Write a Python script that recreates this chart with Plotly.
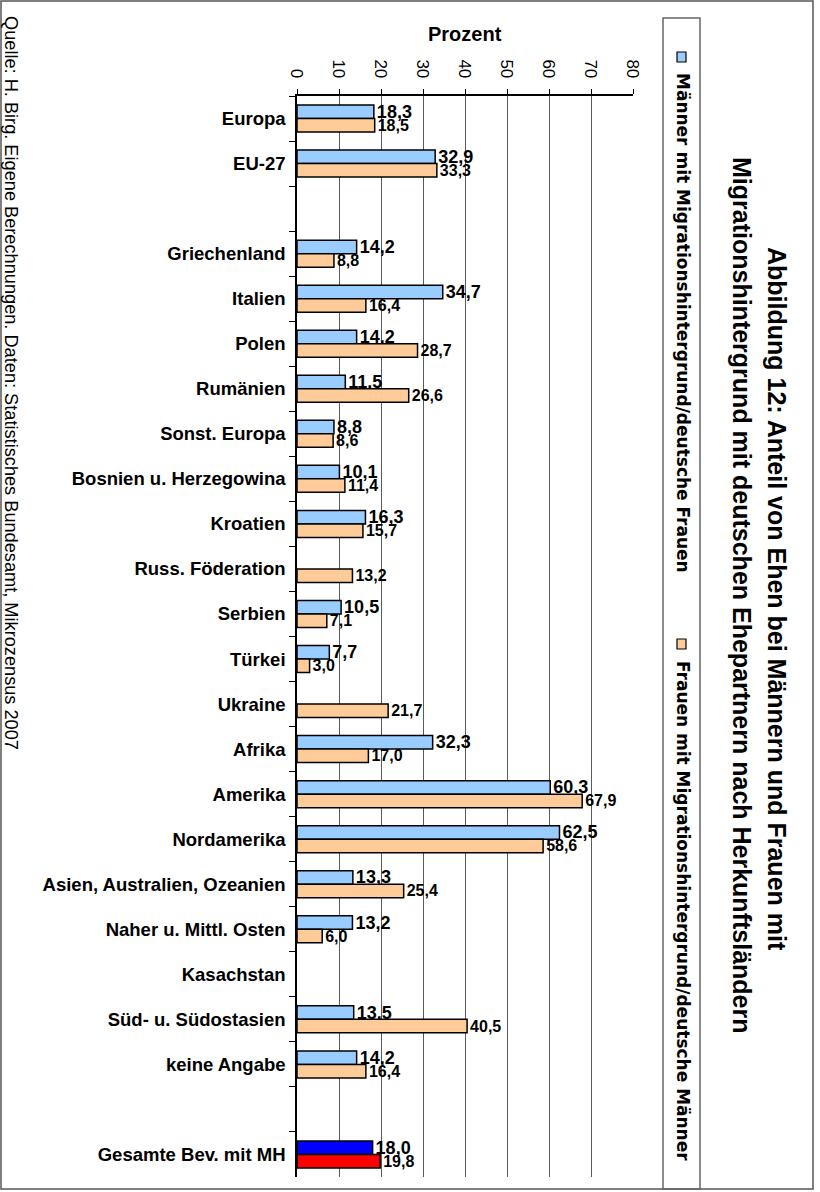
import plotly.graph_objects as go

categories = ["Europa", "EU-27", " ", "Griechenland", "Italien", "Polen", "Rumänien",
              "Sonst. Europa", "Bosnien u. Herzegowina", "Kroatien", "Russ. Föderation",
              "Serbien", "Türkei", "Ukraine", "Afrika", "Amerika", "Nordamerika",
              "Asien, Australien, Ozeanien", "Naher u. Mittl. Osten", "Kasachstan",
              "Süd- u. Südostasien", "keine Angabe", "  ", "Gesamte Bev. mit MH"]
maenner = [18.3, 32.9, None, 14.2, 34.7, 14.2, 11.5, 8.8, 10.1, 16.3, None, 10.5, 7.7,
           None, 32.3, 60.3, 62.5, 13.3, 13.2, None, 13.5, 14.2, None, 18.0]
frauen = [18.5, 33.3, None, 8.8, 16.4, 28.7, 26.6, 8.6, 11.4, 15.7, 13.2, 7.1, 3.0,
          21.7, 17.0, 67.9, 58.6, 25.4, 6.0, None, 40.5, 16.4, None, 19.8]
x_ticks = [0, 10, 20, 30, 40, 50, 60, 70, 80]

series_names = ["Männer mit Migrationshintergrund/deutsche Frauen",
                "Frauen mit Migrationshintergrund/deutsche Männer"]
title_line1 = "Abbildung 12: Anteil von Ehen bei Männern und Frauen mit"
title_line2 = "Migrationshintergrund mit deutschen Ehepartnern nach Herkunftsländern"
source_text = "Quelle: H. Birg. Eigene Berechnungen. Daten: Statistisches Bundesamt, Mikrozensus 2007"

BLUE, ORANGE = "#99CCFF", "#FFCC99"
TOTAL_BLUE, TOTAL_RED = "#0000FF", "#FF0000"
FONT = "Liberation Sans, Arial, sans-serif"
LEG_FONT = "DejaVu Sans, sans-serif"

W, H = 820, 1192
L, R, T, B = 297, 633, 96, 1177


def fx(px):
    return (px - L) / (R - L)


def fy(py):
    return (B - py) / (B - T)


def fmt(v):
    return "" if v is None else f"{v:.1f}".replace(".", ",")


def colors(vals, base, last):
    c = [base] * len(vals)
    c[-1] = last
    return c


fig = go.Figure()
fig.add_trace(go.Bar(
    y=categories, x=maenner, orientation="h", name=series_names[0],
    marker=dict(color=colors(maenner, BLUE, TOTAL_BLUE), line=dict(color="black", width=1.5)),
    text=[fmt(v) for v in maenner], textposition="outside", constraintext="none",
    textfont=dict(family=FONT, size=18, color="black", weight="bold"),
    cliponaxis=False, showlegend=False))
fig.add_trace(go.Bar(
    y=categories, x=frauen, orientation="h", name=series_names[1],
    marker=dict(color=colors(frauen, ORANGE, TOTAL_RED), line=dict(color="black", width=1.5)),
    text=[fmt(v) for v in frauen], textposition="outside", constraintext="none",
    textfont=dict(family=FONT, size=16, color="black", weight="bold"),
    cliponaxis=False, showlegend=False))

fig.update_layout(
    width=W, height=H, barmode="group", bargap=0.4, bargroupgap=0,
    paper_bgcolor="white", plot_bgcolor="white",
    margin=dict(l=L, r=W - R, t=T, b=H - B, pad=0),
    font=dict(family=FONT, color="black"),
    xaxis=dict(side="top", range=[0, 80], tickvals=x_ticks, tickangle=90,
               ticks="outside", ticklen=5, tickcolor="black", ticklabelstandoff=5,
               showline=True, linecolor="black", linewidth=1.5,
               showgrid=True, gridcolor="#5a5a5a", gridwidth=1,
               zeroline=False, tickfont=dict(size=17, family=FONT)),
    yaxis=dict(type="category", categoryorder="array", categoryarray=categories,
               range=[len(categories) - 0.5, -0.5], tickson="boundaries",
               ticks="outside", ticklen=6, tickcolor="black", ticklabelstandoff=6,
               showline=True, linecolor="black", linewidth=1.5, showgrid=False,
               tickfont=dict(size=18.5, family=FONT, weight="bold")),
)

ann = []
ann.append(dict(text="<b>Prozent</b>", x=fx(465), y=fy(34), font=dict(size=20)))
ann.append(dict(text="<b>" + title_line1 + "</b>", x=fx(777), y=fy(599), textangle=90,
                font=dict(size=25)))
ann.append(dict(text="<b>" + title_line2 + "</b>", x=fx(742), y=fy(595), textangle=90,
                font=dict(size=25)))
ann.append(dict(text="<b>" + series_names[0] + "</b>", x=fx(683), y=fy(323), textangle=90,
                font=dict(size=17, family=LEG_FONT)))
ann.append(dict(text="<b>" + series_names[1] + "</b>", x=fx(683), y=fy(911), textangle=90,
                font=dict(size=17, family=LEG_FONT)))
ann.append(dict(text=source_text, x=fx(11), y=fy(383), textangle=90, font=dict(size=18.2)))
for a in ann:
    a.update(xref="paper", yref="paper", showarrow=False, xanchor="center", yanchor="middle")
fig.update_layout(annotations=ann)

shapes = []
# outer frame
shapes.append(dict(type="rect", x0=fx(1), x1=fx(813), y0=fy(1), y1=fy(1189),
                   line=dict(color="#555555", width=1.5)))
# legend box
shapes.append(dict(type="rect", x0=fx(663), x1=fx(700), y0=fy(18), y1=fy(1189),
                   line=dict(color="#666666", width=1.5)))
# legend swatches
shapes.append(dict(type="rect", x0=fx(677), x1=fx(686), y0=fy(52), y1=fy(62),
                   fillcolor=BLUE, line=dict(color="black", width=1.2)))
shapes.append(dict(type="rect", x0=fx(677), x1=fx(686), y0=fy(639), y1=fy(649),
                   fillcolor=ORANGE, line=dict(color="black", width=1.2)))
for s in shapes:
    s.update(xref="paper", yref="paper", layer="above")
fig.update_layout(shapes=shapes)

fig.write_html("out.html", config={"displayModeBar": False},
               post_script="document.body.style.margin='0';document.body.style.overflow='hidden';")
